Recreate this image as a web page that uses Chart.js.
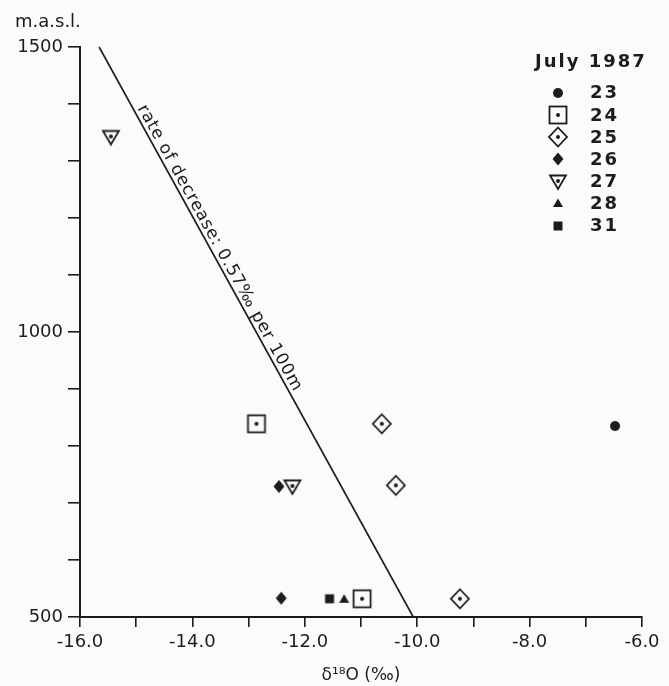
<!DOCTYPE html>
<html>
<head>
<meta charset="utf-8">
<script src="https://cdn.jsdelivr.net/npm/chart.js@4.4.1/dist/chart.umd.min.js"></script>
<style>
  html, body { margin: 0; padding: 0; background: #fbfbfa; }
  canvas { display: block; }
</style>
</head>
<body>
<canvas id="chart" width="669" height="686"></canvas>
<script>
// July 1987 sampling days and their marker shapes
const days = ['23', '24', '25', '26', '27', '28', '31'];
const markerKinds = ['circle', 'squareDot', 'diamondDot', 'diamond', 'triangleDownDot', 'triangle', 'square'];

// delta 18O (per mil) and elevation (m a.s.l.) per day
const x23 = [-6.48],                 y23 = [835];
const x24 = [-12.86, -10.98],        y24 = [839, 532];
const x25 = [-10.63, -10.38, -9.24], y25 = [839, 731, 532];
const x26 = [-12.46, -12.42],        y26 = [729, 533];
const x27 = [-15.45, -12.22],        y27 = [1343, 730];
const x28 = [-11.30],                y28 = [532];
const x31 = [-11.56],                y31 = [532];
const seriesX = [x23, x24, x25, x26, x27, x28, x31];
const seriesY = [y23, y24, y25, y26, y27, y28, y31];

// rate-of-decrease line
const rateX = [-15.66, -10.07];
const rateY = [1500, 500];
const rateText = 'rate of decrease: 0.57\u2030 per 100m';

const legendTitle = 'July 1987';
const yUnit = 'm.a.s.l.';
const xTitle = '\u03b4\u00b9\u2078O (\u2030)';

const INK = '#1c1c1c';
const FONT = '"DejaVu Sans", sans-serif';

function marker(kind) {
  const c = document.createElement('canvas');
  c.width = c.height = 24;
  const g = c.getContext('2d');
  g.translate(12, 12);
  g.fillStyle = INK; g.strokeStyle = INK; g.lineWidth = 1.8; g.lineJoin = 'miter';
  const dot = () => { g.beginPath(); g.arc(0, 0, 2, 0, Math.PI * 2); g.fill(); };
  switch (kind) {
    case 'circle': g.beginPath(); g.arc(0, 0, 5, 0, Math.PI * 2); g.fill(); break;
    case 'squareDot': g.strokeRect(-8.5, -8.5, 17, 17); dot(); break;
    case 'diamondDot':
      g.beginPath(); g.moveTo(0, -9.5); g.lineTo(9, 0); g.lineTo(0, 9.5); g.lineTo(-9, 0); g.closePath();
      g.stroke(); dot(); break;
    case 'diamond':
      g.beginPath(); g.moveTo(0, -6.5); g.lineTo(5.5, 0); g.lineTo(0, 6.5); g.lineTo(-5.5, 0); g.closePath();
      g.fill(); break;
    case 'triangleDownDot':
      g.beginPath(); g.moveTo(-8, -5.5); g.lineTo(8, -5.5); g.lineTo(0, 8); g.closePath();
      g.stroke(); dot(); break;
    case 'triangle':
      g.beginPath(); g.moveTo(0, -4.5); g.lineTo(5, 4); g.lineTo(-5, 4); g.closePath(); g.fill(); break;
    case 'square': g.fillRect(-4.5, -4.5, 9, 9); break;
  }
  return c;
}
const markerImages = markerKinds.map(marker);

const pointSets = days.map((d, i) => ({
  label: d,
  data: seriesX[i].map((x, j) => ({ x: x, y: seriesY[i][j] })),
  pointStyle: markerImages[i],
  pointRadius: 10,
  showLine: false,
  clip: false
}));

const rateSet = {
  label: 'rate',
  data: rateX.map((x, j) => ({ x: x, y: rateY[j] })),
  showLine: true,
  borderColor: INK,
  borderWidth: 1.6,
  pointRadius: 0,
  clip: false
};

// vertical list of days in the upper right, plus the unit label
const legendPlugin = {
  id: 'dayLegend',
  afterDraw(chart) {
    const ctx = chart.ctx;
    ctx.save();
    ctx.fillStyle = INK;
    ctx.font = '18px ' + FONT;
    ctx.textBaseline = 'middle';
    ctx.fillText(yUnit, 15, 22);
    ctx.font = 'bold 18px ' + FONT;
    ctx.letterSpacing = '2px';
    ctx.textBaseline = 'alphabetic';
    ctx.fillText(legendTitle, 535, 67);
    ctx.textBaseline = 'middle';
    days.forEach((d, i) => {
      const y = 92.7 + i * 22.15;
      ctx.drawImage(markerImages[i], 558 - 12, Math.round(y) - 12);
      ctx.fillText(d, 590, y + 1);
    });
    ctx.restore();
  }
};

// label written along the rate line
const rateLabelPlugin = {
  id: 'rateLabel',
  afterDatasetsDraw(chart) {
    const { ctx, scales: { x, y } } = chart;
    const x0 = x.getPixelForValue(rateX[0]), y0 = y.getPixelForValue(rateY[0]);
    const x1 = x.getPixelForValue(rateX[1]), y1 = y.getPixelForValue(rateY[1]);
    const ang = Math.atan2(y1 - y0, x1 - x0);
    ctx.save();
    ctx.translate(x0, y0);
    ctx.rotate(ang);
    ctx.fillStyle = INK;
    ctx.font = '17px ' + FONT;
    ctx.letterSpacing = '0.8px';
    ctx.textBaseline = 'alphabetic';
    ctx.fillText(rateText, 72, -4);
    ctx.restore();
  }
};

new Chart(document.getElementById('chart'), {
  type: 'scatter',
  data: { datasets: [rateSet, ...pointSets] },
  plugins: [rateLabelPlugin, legendPlugin],
  options: {
    responsive: false,
    animation: false,
    layout: { padding: { top: 47, right: 27, bottom: 0, left: 0 } },
    plugins: { legend: { display: false }, tooltip: { enabled: false } },
    scales: {
      x: {
        type: 'linear', min: -16, max: -6,
        afterFit: s => { s.height = 69; },
        border: { display: true, color: INK, width: 2 },
        grid: { drawOnChartArea: false, drawTicks: true, tickLength: 10, color: INK, lineWidth: 1.6 },
        ticks: {
          stepSize: 1, padding: 5, color: INK, maxRotation: 0, autoSkip: false,
          font: { family: FONT, size: 18 },
          callback: v => (Math.round(v) % 2 === 0 ? v.toFixed(1) : '')
        },
        title: { display: true, text: xTitle, color: INK, font: { family: FONT, size: 17 }, padding: { top: 0, bottom: 0 } }
      },
      y: {
        type: 'linear', min: 500, max: 1500,
        afterFit: s => { s.width = 80; },
        border: { display: true, color: INK, width: 2 },
        grid: { drawOnChartArea: false, drawTicks: true, tickLength: 12, color: INK, lineWidth: 1.6 },
        ticks: {
          stepSize: 100, padding: 5, color: INK, autoSkip: false,
          font: { family: FONT, size: 18 },
          callback: v => (v % 500 === 0 ? String(v) : '')
        }
      }
    }
  }
});
</script>
</body>
</html>
